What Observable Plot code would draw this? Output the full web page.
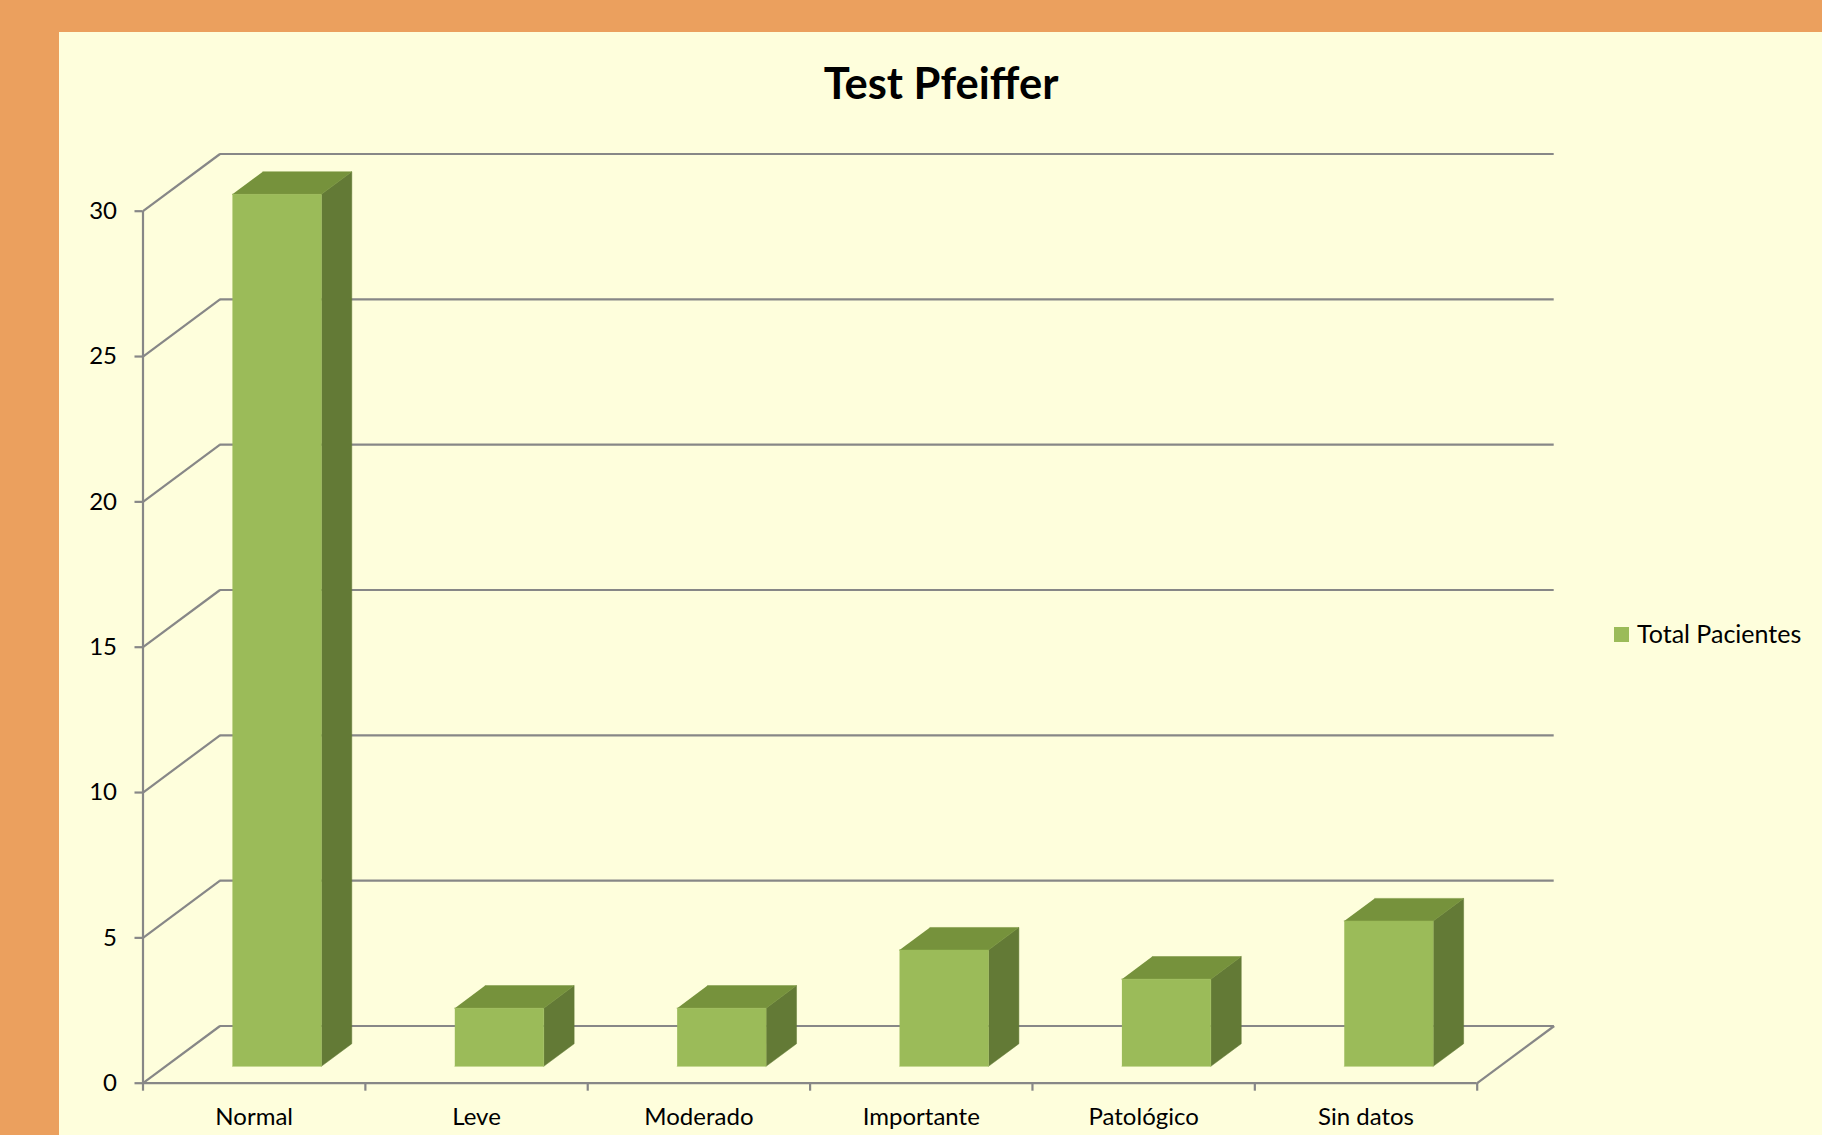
<!DOCTYPE html>
<html>
<head>
<meta charset="utf-8">
<script src="https://cdn.jsdelivr.net/npm/d3@7"></script>
<script src="https://cdn.jsdelivr.net/npm/@observablehq/plot@0.6"></script>
<style>
html, body { margin: 0; padding: 0; overflow: hidden; }
body { width: 1822px; height: 1135px; background: #EBA05E; position: relative; font-family: Lato, "Open Sans", sans-serif; }
#panel { position: absolute; left: 59px; top: 32px; right: 0; bottom: 0; background: #FEFEDC; }
#chart { position: absolute; left: 0; top: 0; }
#title { position: absolute; left: 641px; width: 600px; top: 61px; text-align: center; font-weight: 700; font-size: 43.5px; line-height: 43.5px; color: #000; }
#legend { position: absolute; left: 1614px; top: 621px; font-size: 25px; line-height: 25px; color: #000; white-space: nowrap; }
#legend .sw { position: absolute; left: 0; top: 6px; width: 15px; height: 15px; background: #9BBB59; }
#legend .lb { position: absolute; left: 23px; top: 0; }
#chart svg [aria-label^="y-axis"] line, #chart svg [aria-label^="y-axis"] path,
#chart svg [aria-label^="x-axis"] line, #chart svg [aria-label^="x-axis"] path { stroke: #878787; stroke-width: 2.2px; }
</style>
</head>
<body>
<div id="panel"></div>
<div id="chart"></div>
<div id="title">Test Pfeiffer</div>
<div id="legend"><span class="sw"></span><span class="lb">Total Pacientes</span></div>
<script>
// ---- data ----
const categories = ["Normal", "Leve", "Moderado", "Importante", "Patológico", "Sin datos"];
const values = [30, 2, 2, 4, 3, 5];
const yTicks = [0, 5, 10, 15, 20, 25, 30];
const seriesName = "Total Pacientes";

// ---- 3D projection styling (oblique depth expressed in scale units) ----
const W = 1822, H = 1135;
const mL = 142.5, mR = W - 1476.7, mT = 210.7, mB = H - 1082.7;
const pxPerX = (W - mL - mR) / categories.length;
const pxPerY = (H - mT - mB) / 30;
const DXu = 77 / pxPerX;     // floor depth, x units
const DYu = 57.2 / pxPerY;   // floor depth, y units
const f1 = 0.295, f2 = 0.69; // bar front / back depth fraction
const gap = 0.3;             // band padding on each side

const frontFaces = [], sideFaces = [], topFaces = [];
values.forEach((v, i) => {
  const xL = i + gap + f1 * DXu, xR = i + 1 - gap + f1 * DXu, y0 = f1 * DYu;
  const d = (f2 - f1) * DXu, h = (f2 - f1) * DYu;
  [[xL, y0], [xR, y0], [xR, y0 + v], [xL, y0 + v]].forEach(([x, y]) => frontFaces.push({id: i, x, y}));
  [[xR, y0], [xR + d, y0 + h], [xR + d, y0 + v + h], [xR, y0 + v]].forEach(([x, y]) => sideFaces.push({id: i, x, y}));
  [[xL, y0 + v], [xR, y0 + v], [xR + d, y0 + v + h], [xL + d, y0 + v + h]].forEach(([x, y]) => topFaces.push({id: i, x, y}));
});

const grid = "#878787";
const chart = Plot.plot({
  width: W, height: H,
  marginLeft: mL, marginRight: mR, marginTop: mT, marginBottom: mB,
  style: {background: "transparent", fontFamily: "Lato, 'Open Sans', sans-serif", fontSize: "24px", color: "#000", overflow: "visible"},
  x: {type: "linear", domain: [0, categories.length], ticks: categories.length, tickSize: 8, tickFormat: () => "", label: null},
  y: {type: "linear", domain: [0, 30], ticks: 6, tickSize: 8, tickPadding: 18, label: null},
  marks: [
    // back wall grid
    Plot.ruleY(yTicks, {y: d => d + DYu, x1: DXu, x2: categories.length + DXu, stroke: grid, strokeWidth: 2.2}),
    // left wall diagonals
    Plot.link(yTicks, {x1: 0, y1: d => d, x2: DXu, y2: d => d + DYu, stroke: grid, strokeWidth: 2.2}),
    // floor right edge
    Plot.link([0], {x1: categories.length, y1: 0, x2: categories.length + DXu, y2: DYu, stroke: grid, strokeWidth: 2.2}),
    // bars
    Plot.line(sideFaces, {x: "x", y: "y", z: "id", fill: "#637A36", stroke: "#637A36", strokeWidth: 0.5}),
    Plot.line(topFaces, {x: "x", y: "y", z: "id", fill: "#76923C", stroke: "#76923C", strokeWidth: 0.5}),
    Plot.line(frontFaces, {x: "x", y: "y", z: "id", fill: "#9BBB59", stroke: "#9BBB59", strokeWidth: 0.5}),
    // front axes
    Plot.ruleX([0], {y1: 0, y2: 30, stroke: grid, strokeWidth: 2.2}),
    Plot.ruleY([0], {x1: 0, x2: categories.length, stroke: grid, strokeWidth: 2.2}),
    // category labels
    Plot.text(categories, {x: (d, i) => i + 0.5, y: 0, text: d => d, dy: 34, fill: "#000", fontSize: 24})
  ]
});
document.getElementById("chart").appendChild(chart);
document.querySelector("#legend .lb").textContent = seriesName;
</script>
</body>
</html>
